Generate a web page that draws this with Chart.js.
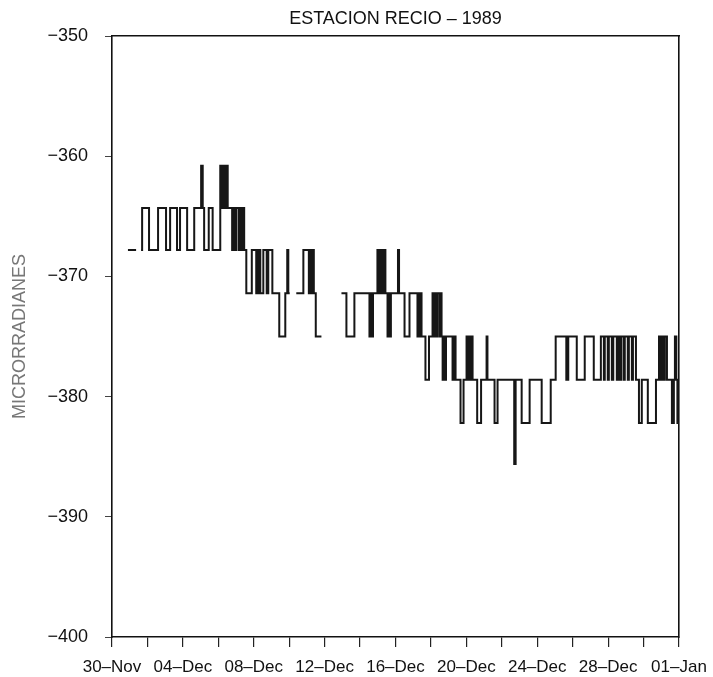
<!DOCTYPE html>
<html>
<head>
<meta charset="utf-8">
<script src="https://cdn.jsdelivr.net/npm/chart.js@4.4.0/dist/chart.umd.min.js"></script>
<style>
html,body{margin:0;padding:0;background:#fff;}
#wrap{width:713px;height:677px;position:relative;}
</style>
</head>
<body>
<div id="wrap"><canvas id="c" width="713" height="677"></canvas></div>
<script>
const chartTitle = 'ESTACION RECIO – 1989';
const yAxisTitle = 'MICRORRADIANES';
const dateLabels = ['30–Nov','04–Dec','08–Dec','12–Dec','16–Dec','20–Dec','24–Dec','28–Dec','01–Jan'];
const yTicks = { min: -400, max: -350, step: 10 };

// days since 30-Nov (level changes of the record)
const dayOffset = [
  0.90, 1.36, 1.50,
  1.64, 1.70, 2.09, 2.60, 3.05, 3.28, 3.67, 3.84, 4.24, 4.64, 5.03, 5.12, 5.20, 5.46, 5.68,
  6.11, 6.22, 6.33, 6.42, 6.47, 6.53, 6.78, 6.84, 6.95, 7.01, 7.15, 7.21, 7.29, 7.35, 7.46,
  7.58, 7.89, 8.14, 8.20, 8.25, 8.31, 8.37, 8.54, 8.73, 8.82, 9.05, 9.44, 9.78, 9.89, 9.95, 10.03, 10.20,
  10.40, 10.80, 11.11, 11.19, 11.25, 11.31, 11.39, 11.50, 11.82, 12.50,
  12.95, 13.23, 13.68, 14.53, 14.59, 14.64, 14.73, 14.98, 15.04, 15.09, 15.15, 15.26, 15.32, 15.38, 15.43,
  15.55, 15.60, 15.66, 15.74, 16.14, 16.20, 16.51, 16.79, 17.24, 17.30, 17.36, 17.41, 17.47,
  17.69, 17.89, 18.09, 18.17, 18.23, 18.32, 18.37, 18.49, 18.54, 18.60, 18.66, 18.71, 18.77, 18.85,
  19.22, 19.31, 19.39, 19.67, 19.84, 20.01, 20.07, 20.12, 20.21, 20.29, 20.35, 20.61, 20.83,
  21.14, 21.19, 21.59, 21.76, 22.70, 22.78, 23.12, 23.57, 24.25, 24.76,
  25.04, 25.64, 25.75, 26.23, 26.68, 27.19, 27.59, 27.76, 27.81, 27.98, 28.04, 28.21, 28.29,
  28.49, 28.55, 28.66, 28.75, 28.89, 28.94, 29.11, 29.17, 29.34, 29.40, 29.57, 29.74, 29.90,
  30.24, 30.70, 30.87, 30.95, 31.04, 31.12, 31.20, 31.32, 31.60, 31.71, 31.77, 31.85, 31.91, 32.00
];

// tilt in microradians (null = no record)
const microradians = [
  -367.8, -367.8, null,
  -367.8, -364.3, -367.8, -364.3, -367.8, -364.3, -367.8, -364.3, -367.8, -364.3, -360.8, -364.3, -367.8, -364.3, -367.8,
  -360.8, -364.3, -360.8, -364.3, -360.8, -364.3, -367.8, -364.3, -367.8, -364.3, -367.8, -364.3, -367.8, -364.3, -367.8,
  -371.4, -367.8, -371.4, -367.8, -371.4, -367.8, -371.4, -367.8, -371.4, -367.8, -371.4, -375.0, -371.4, -367.8, -371.4, -371.4, null,
  -371.4, -367.8, -371.4, -367.8, -371.4, -367.8, -371.4, -375.0, -375.0, null,
  -371.4, -375.0, -371.4, -375.0, -371.4, -375.0, -371.4, -367.8, -371.4, -367.8, -371.4, -367.8, -371.4, -367.8, -371.4,
  -375.0, -371.4, -375.0, -371.4, -367.8, -371.4, -375.0, -371.4, -375.0, -371.4, -375.0, -371.4, -375.0,
  -378.6, -375.0, -371.4, -375.0, -371.4, -375.0, -371.4, -375.0, -371.4, -375.0, -378.6, -375.0, -378.6, -375.0,
  -378.6, -375.0, -378.6, -382.2, -378.6, -375.0, -378.6, -375.0, -378.6, -375.0, -378.6, -382.2, -378.6,
  -375.0, -378.6, -382.2, -378.6, -385.6, -378.6, -382.2, -378.6, -382.2, -378.6,
  -375.0, -378.6, -375.0, -378.6, -375.0, -378.6, -375.0, -378.6, -375.0, -378.6, -375.0, -378.6, -375.0,
  -378.6, -375.0, -378.6, -375.0, -378.6, -375.0, -378.6, -375.0, -378.6, -375.0, -378.6, -382.2, -378.6,
  -382.2, -378.6, -375.0, -378.6, -375.0, -378.6, -375.0, -378.6, -382.2, -378.6, -375.0, -378.6, -382.2, -382.2
];

const FONT = "'Liberation Sans', Arial, sans-serif";
const points = dayOffset.map((d, i) => ({ x: d, y: microradians[i] }));

new Chart(document.getElementById('c'), {
  type: 'line',
  data: {
    datasets: [{
      data: points,
      borderColor: '#161616',
      borderWidth: 2,
      pointRadius: 0,
      stepped: 'before',
      spanGaps: false,
      fill: false
    }]
  },
  options: {
    responsive: false,
    animation: false,
    devicePixelRatio: 1,
    layout: { padding: { left: 0, right: 34, top: 0, bottom: 0 } },
    plugins: {
      legend: { display: false },
      tooltip: { enabled: false },
      title: { display: false }
    },
    scales: {
      x: {
        type: 'linear',
        position: 'bottom',
        min: 0,
        max: 32,
        ticks: {
          stepSize: 2,
          autoSkip: false,
          maxRotation: 0,
          color: '#111',
          padding: 10,
          font: { family: FONT, size: 17 },
          callback: (v) => (v % 4 === 0 ? dateLabels[v / 4] : '')
        },
        grid: { drawOnChartArea: false, drawTicks: true, tickLength: 10, color: '#222', lineWidth: 1.2 },
        border: { display: true, color: '#111', width: 1.6 },
        afterFit: (s) => { s.height = 40; s.paddingLeft = 0; s.paddingRight = 0; }
      },
      y: {
        type: 'linear',
        position: 'left',
        min: yTicks.min,
        max: yTicks.max,
        ticks: {
          stepSize: yTicks.step,
          color: '#111',
          padding: 17,
          font: { family: FONT, size: 18 },
          callback: (v) => String(v).replace('-', '\u2212')
        },
        grid: { drawOnChartArea: false, drawTicks: true, tickLength: 7, color: '#444', lineWidth: 1 },
        border: { display: true, color: '#111', width: 1.6 },
        title: {
          display: true,
          text: yAxisTitle,
          color: '#777',
          font: { family: FONT, size: 18, lineHeight: 1.2 },
          padding: { top: 9, bottom: 0 }
        },
        afterFit: (s) => { s.width = 112; }
      },
      xTop: {
        type: 'linear',
        position: 'top',
        min: 0,
        max: 32,
        ticks: { display: false },
        grid: { display: false, drawTicks: false },
        border: { display: true, color: '#111', width: 1.6 },
        title: {
          display: true,
          text: chartTitle,
          color: '#111',
          font: { family: FONT, size: 18, lineHeight: 1.2 },
          padding: { top: 8, bottom: 0 }
        },
        afterFit: (s) => { s.height = 36; }
      },
      yRight: {
        type: 'linear',
        position: 'right',
        min: yTicks.min,
        max: yTicks.max,
        ticks: { display: false },
        grid: { display: false, drawTicks: false },
        border: { display: true, color: '#111', width: 1.6 },
        afterFit: (s) => { s.width = 0; }
      }
    }
  }
});
</script>
</body>
</html>
